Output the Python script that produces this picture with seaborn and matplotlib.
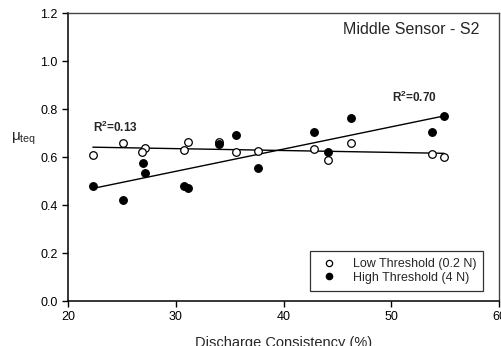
import numpy as np
import pandas as pd
import matplotlib
matplotlib.use("Agg")
import matplotlib.pyplot as plt
import seaborn as sns
from matplotlib.lines import Line2D

# ---- data ----
low_x = [22.3, 25.1, 27.1, 26.9, 30.8, 31.1, 34.0, 35.6, 37.6, 42.8, 44.1, 46.3, 53.8, 54.9]
low_y = [0.608, 0.657, 0.636, 0.622, 0.629, 0.662, 0.662, 0.622, 0.626, 0.635, 0.586, 0.660, 0.611, 0.600]
high_x = [22.35, 25.1, 27.0, 27.1, 30.8, 31.1, 34.0, 35.6, 37.6, 42.8, 44.1, 46.3, 53.8, 54.9]
high_y = [0.480, 0.422, 0.574, 0.532, 0.480, 0.472, 0.654, 0.693, 0.553, 0.703, 0.622, 0.762, 0.703, 0.772]
series_names = ["Low Threshold (0.2 N)", "High Threshold (4 N)"]
r2_labels = ["0.13", "0.70"]
x_ticks = [20, 30, 40, 50, 60]
y_ticks = [0.0, 0.2, 0.4, 0.6, 0.8, 1.0, 1.2]

df = pd.DataFrame({
    "x": low_x + high_x,
    "y": low_y + high_y,
    "series": [series_names[0]] * len(low_x) + [series_names[1]] * len(high_x),
})

sns.set_style("ticks")
plt.rcParams["font.family"] = ["Liberation Sans", "DejaVu Sans"]
plt.rcParams["mathtext.fontset"] = "custom"
plt.rcParams["mathtext.rm"] = "Liberation Sans"
plt.rcParams["mathtext.bf"] = "Liberation Sans:bold"

fig = plt.figure(figsize=(5.01, 3.46), dpi=100)
ax = fig.add_axes([68 / 501, 45 / 346, 431 / 501, 288 / 346])

# regression lines
for name in series_names:
    sub = df[df["series"] == name]
    sns.regplot(data=sub, x="x", y="y", ax=ax, scatter=False, ci=None,
                truncate=True, line_kws=dict(color="black", lw=1.0))

# points
low = df[df["series"] == series_names[0]]
high = df[df["series"] == series_names[1]]
sns.scatterplot(data=low, x="x", y="y", ax=ax, marker="o", s=30,
                facecolor="white", edgecolor="black", linewidth=0.9, zorder=3)
sns.scatterplot(data=high, x="x", y="y", ax=ax, marker="o", s=30,
                color="black", edgecolor="black", linewidth=0.9, zorder=3)

ax.set_xlim(20, 60)
ax.set_ylim(0, 1.2)
ax.set_xticks(x_ticks)
ax.set_yticks(y_ticks)
ax.set_yticklabels([f"{v:.1f}" for v in y_ticks])
ax.tick_params(axis="both", direction="out", length=4.5, width=1, labelsize=9, colors="black", pad=3)

for side in ["left", "bottom"]:
    ax.spines[side].set_color("black")
    ax.spines[side].set_linewidth(1.1)
for side in ["top", "right"]:
    ax.spines[side].set_visible(True)
    ax.spines[side].set_color("#444444")
    ax.spines[side].set_linewidth(1.0)

ax.set_xlabel("Discharge Consistency (%)", fontsize=10.5, labelpad=9)
ax.set_ylabel("μ$_{\\mathregular{teq}}$", fontsize=11, rotation=0)
ax.yaxis.set_label_coords(-0.103, 0.535)

ax.text(0.954, 0.941, "Middle Sensor - S2", transform=ax.transAxes,
        ha="right", va="center", fontsize=11.5)
ax.text(22.3, 0.722, "R$^\\mathbf{2}$=" + r2_labels[0], ha="left", va="center",
        fontsize=8.5, fontweight="bold")
ax.text(50.1, 0.85, "R$^\\mathbf{2}$=" + r2_labels[1], ha="left", va="center",
        fontsize=8.5, fontweight="bold")

handles = [
    Line2D([], [], linestyle="none", marker="o", markersize=4.5,
           markerfacecolor="white", markeredgecolor="black", markeredgewidth=0.9),
    Line2D([], [], linestyle="none", marker="o", markersize=4.5,
           markerfacecolor="black", markeredgecolor="black"),
]
leg = ax.legend(handles, series_names, loc="lower right",
                bbox_to_anchor=(0.9636, 0.036), borderaxespad=0,
                fontsize=9, frameon=True, fancybox=False,
                handlelength=2.0, handletextpad=0.9, labelspacing=0.15,
                borderpad=0.55)
leg.get_frame().set_edgecolor("black")
leg.get_frame().set_linewidth(0.9)

fig.savefig("out.png", dpi=100)
